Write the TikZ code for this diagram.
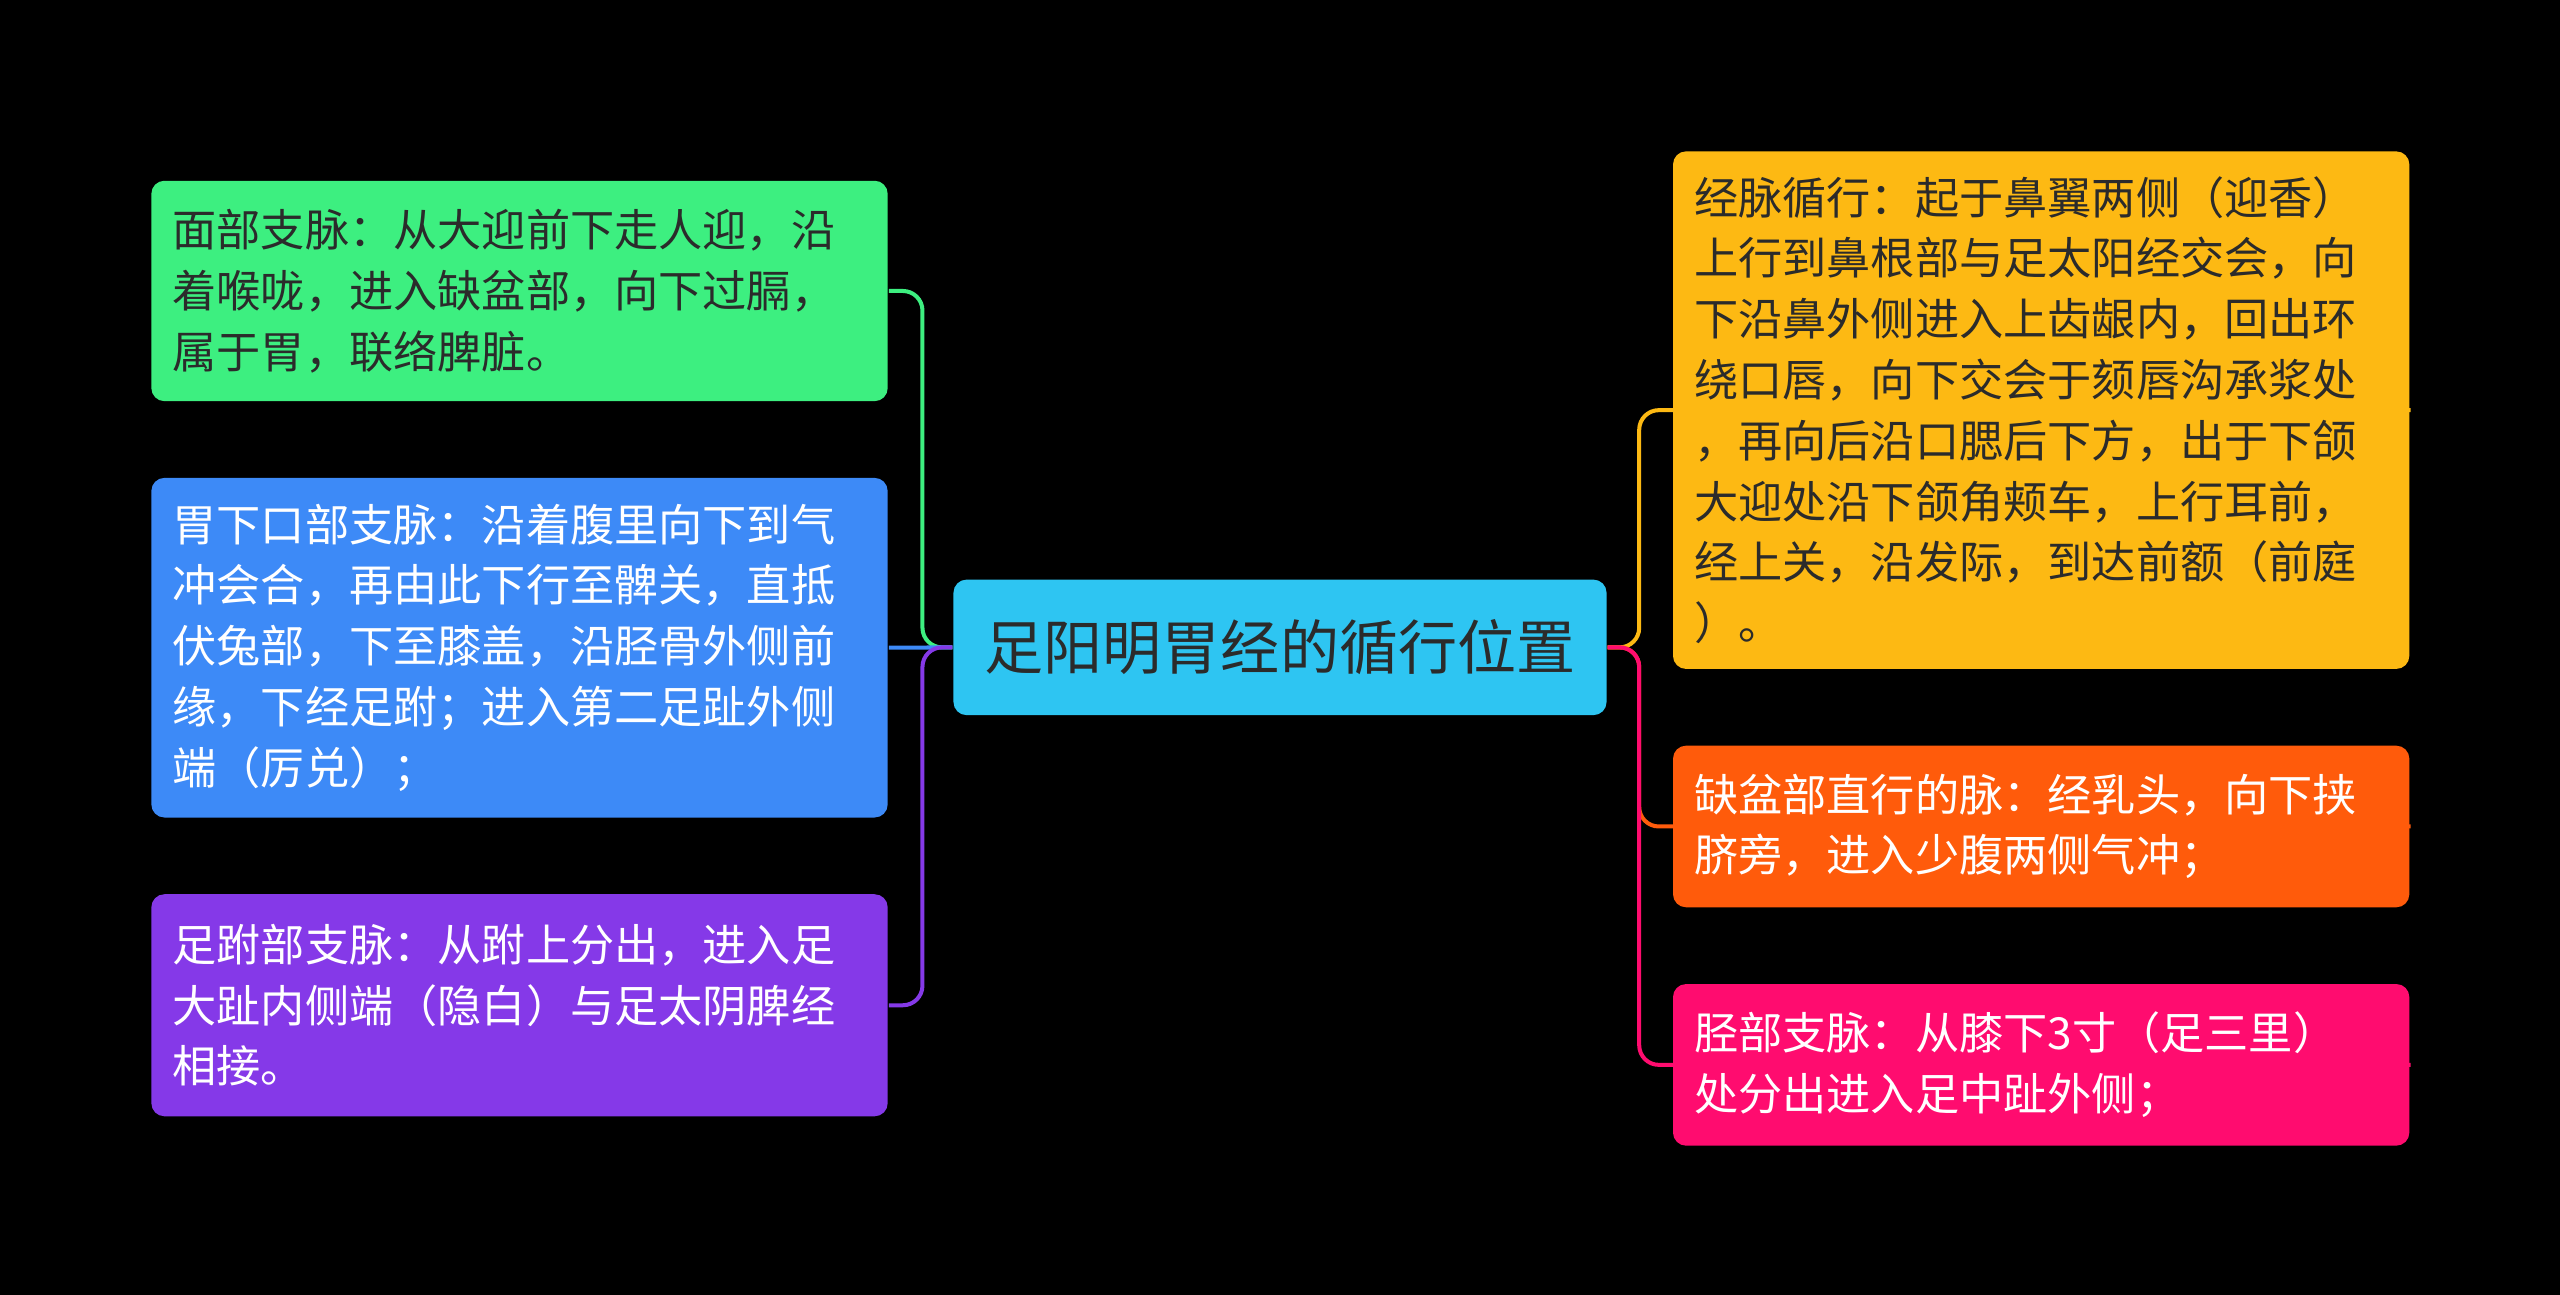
\documentclass[tikz,border=0pt]{standalone}
\usepackage{fontspec}
\setmainfont{Noto Sans CJK SC}
\usetikzlibrary{positioning}
\definecolor{cgreen}{HTML}{3DEF80}
\definecolor{cblue}{HTML}{3D8AF7}
\definecolor{cpurple}{HTML}{8539E8}
\definecolor{ccyan}{HTML}{2EC5F2}
\definecolor{cgold}{HTML}{FDB913}
\definecolor{corange}{HTML}{FF5B0B}
\definecolor{cpink}{HTML}{FF0C6F}
\definecolor{cdark}{HTML}{2B2B2B}
\tikzset{
  leaf/.style={anchor=north west, rounded corners=0.08cm, text width=4.25cm, inner xsep=0.13cm, align=left,
    font=\fontsize{7.7}{10.6}\selectfont, text=white},
  link/.style={line width=0.7pt, rounded corners=0.12cm}
}
\begin{document}
\begin{tikzpicture}
\fill[black] (0,0) rectangle (15.68,-7.93);
\useasboundingbox (0,0) rectangle (15.68,-7.93);
\node[fill=ccyan, rounded corners=0.08cm, minimum width=4.0cm, minimum height=0.83cm, font=\fontsize{10.3}{12}\selectfont, text=cdark] (root) at (7.84,-3.965) {足阳明胃经的循行位置};
\coordinate (ls) at (5.65,-3.96);
\coordinate (rs) at (10.04,-3.96);
% left branches
\node[leaf, fill=cgreen, text=cdark, minimum height=1.35cm] (l1) at (0.92,-1.10) {面部支脉：从大迎前下走人迎，沿\\着喉咙，进入缺盆部，向下过膈，\\属于胃，联络脾脏。};
\node[leaf, fill=cblue, minimum height=2.08cm] (l2) at (0.92,-2.92) {胃下口部支脉：沿着腹里向下到气\\冲会合，再由此下行至髀关，直抵\\伏兔部，下至膝盖，沿胫骨外侧前\\缘，下经足跗；进入第二足趾外侧\\端（厉兑）；};
\node[leaf, fill=cpurple, minimum height=1.36cm] (l3) at (0.92,-5.47) {足跗部支脉：从跗上分出，进入足\\大趾内侧端（隐白）与足太阴脾经\\相接。};
% right branches
\node[leaf, fill=cgold, text=cdark, minimum height=3.17cm] (r1) at (10.24,-0.92) {经脉循行：起于鼻翼两侧（迎香）\\上行到鼻根部与足太阳经交会，向\\下沿鼻外侧进入上齿龈内，回出环\\绕口唇，向下交会于颏唇沟承浆处\\，再向后沿口腮后下方，出于下颌\\大迎处沿下颌角颊车，上行耳前，\\经上关，沿发际，到达前额（前庭\\）。};
\node[leaf, fill=corange, minimum height=0.99cm] (r2) at (10.24,-4.56) {缺盆部直行的脉：经乳头，向下挟\\脐旁，进入少腹两侧气冲；};
\node[leaf, fill=cpink, minimum height=0.99cm] (r3) at (10.24,-6.02) {胫部支脉：从膝下3寸（足三里）\\处分出进入足中趾外侧；};
% connectors
\draw[link, cgreen] (root.west) -| (ls |- l1.east) -- (l1.east);
\draw[link, cblue] (root.west) -- (l2.east);
\draw[link, cpurple] (root.west) -| (ls |- l3.east) -- (l3.east);
\draw[link, cgold] (root.east) -| (rs |- r1.east) -- (r1.east);
\draw[link, corange] (root.east) -| (rs |- r2.east) -- (r2.east);
\draw[link, cpink] (root.east) -| (rs |- r3.east) -- (r3.east);
\end{tikzpicture}
\end{document}
